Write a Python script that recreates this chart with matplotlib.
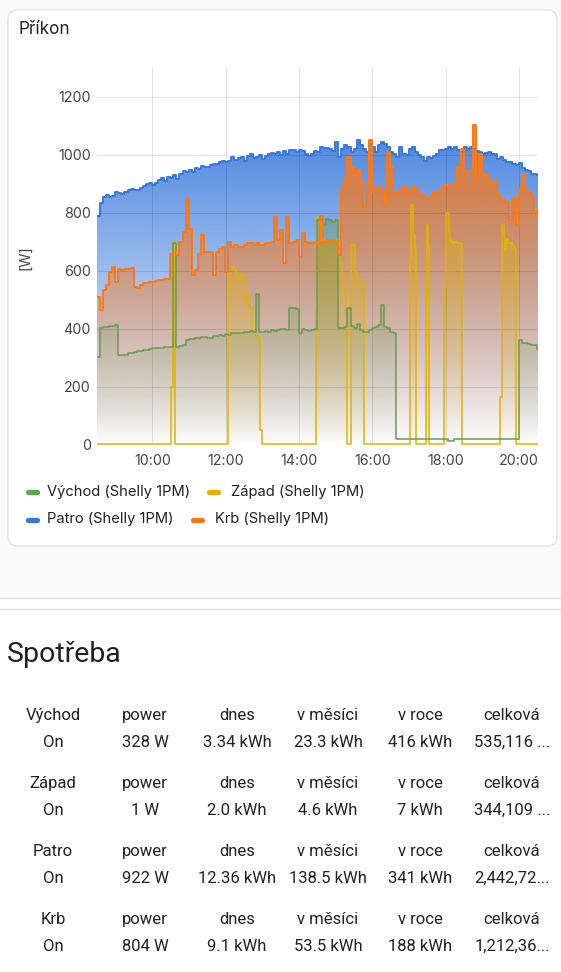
import numpy as np
import matplotlib
matplotlib.use('Agg')
import matplotlib.pyplot as plt
from matplotlib.patches import FancyBboxPatch, PathPatch, Rectangle
from matplotlib.lines import Line2D
from matplotlib.transforms import IdentityTransform
from matplotlib.colors import to_rgb

# ---------------- data ----------------
T_START = 8.49            # hours (first sample)
T_END = 20.52             # hours (now)
STEP_H = 5 / 60           # 5-minute samples

patro = [
    790, 835, 855, 862, 855, 860, 872, 870, 865, 872, 878, 882,
    880, 878, 885, 892, 900, 905, 897, 905, 915, 920, 912, 925,
    920, 930, 918, 935, 945, 940, 948, 942, 955, 950, 962, 958,
    959, 964, 970, 970, 976, 981, 976, 981, 993, 984, 990, 993,
    979, 995, 1004, 990, 993, 999, 987, 995, 1004, 1007, 1004, 1009,
    999, 1014, 1004, 1016, 1018, 1010, 1016, 1014, 1004, 995, 1004, 1014,
    1010, 1027, 1025, 1025, 1022, 1014, 1045, 993, 1022, 1033, 1027, 1010,
    1022, 1050, 1033, 1022, 1010, 1039, 1027, 1010, 1033, 1045, 1039, 1027,
    1010, 1004, 993, 1027, 1004, 999, 1022, 1027, 1010, 999, 993, 979,
    993, 991, 995, 1004, 1016, 1018, 1022, 1027, 1022, 1027, 1018, 1010,
    1027, 1022, 1027, 1022, 1014, 1010, 1004, 1007, 1010, 1004, 1002, 987,
    993, 984, 976, 976, 970, 964, 972, 956, 949, 945, 936, 936,
    930]

krb = [
    511, 465, 534, 551, 597, 614, 562, 608, 603, 608, 608, 611,
    545, 540, 551, 557, 560, 562, 562, 565, 568, 568, 571, 574,
    660, 662, 655, 700, 735, 853, 746, 585, 605, 660, 723, 666,
    666, 666, 585, 666, 677, 683, 597, 700, 683, 689, 683, 683,
    689, 695, 695, 689, 695, 689, 689, 695, 695, 700, 786, 706,
    740, 626, 786, 695, 700, 706, 649, 731, 700, 695, 695, 700,
    689, 789, 700, 706, 706, 706, 700, 654, 884, 918, 993, 960,
    930, 947, 907, 821, 901, 1052, 872, 884, 890, 878, 826, 1010,
    958, 872, 866, 878, 890, 866, 878, 890, 884, 866, 861, 850,
    850, 858, 872, 870, 878, 890, 895, 892, 895, 890, 958, 1022,
    945, 890, 947, 1102, 924, 1004, 935, 930, 912, 907, 912, 861,
    844, 844, 838, 775, 850, 758, 884, 936, 878, 872, 858, 798,
    809]

vychod = [
    303, 405, 408, 408, 410, 410, 413, 310, 310, 312, 316, 318,
    321, 323, 325, 327, 329, 331, 333, 333, 333, 335, 337, 339,
    339, 698, 339, 341, 346, 362, 364, 365, 368, 370, 371, 373,
    370, 370, 375, 377, 379, 375, 382, 379, 385, 387, 385, 385,
    390, 388, 394, 390, 522, 390, 390, 394, 390, 396, 394, 396,
    399, 399, 396, 471, 471, 468, 385, 399, 396, 394, 396, 399,
    775, 781, 763, 781, 775, 770, 775, 405, 405, 408, 471, 410,
    405, 417, 396, 388, 390, 396, 402, 408, 415, 482, 408, 402,
    390, 385, 20, 20, 20, 20, 20, 20, 20, 20, 20, 20,
    20, 20, 20, 20, 20, 20, 20, 15, 15, 20, 20, 20,
    20, 20, 20, 20, 20, 20, 20, 20, 20, 20, 20, 20,
    20, 20, 20, 20, 20, 20, 362, 350, 350, 347, 345, 344,
    330]

# Západ: change points (hour, watts)
zapad_t = [8.49, 10.52, 10.57, 10.63, 12.07, 12.23, 12.27, 12.32, 12.39, 12.45,
           12.50, 12.54, 12.59, 12.64, 12.71, 12.78, 12.84, 12.91, 12.93, 13.00,
           14.46, 14.50, 14.60, 15.07, 15.12, 15.16, 15.23, 15.27, 15.30,
           15.43, 15.53, 15.57, 15.62, 15.69, 15.77,
           17.03, 17.06, 17.12, 17.16, 17.20,
           17.46, 17.50, 17.53, 17.56,
           17.96, 18.00, 18.09, 18.13, 18.18, 18.24, 18.30, 18.44,
           19.48, 19.55, 19.58, 19.62, 19.66, 19.71, 19.82, 19.87, 19.91]
zapad_v = [3, 200, 700, 3, 614, 608, 597, 574, 591, 585,
           522, 499, 516, 476, 396, 385, 375, 367, 52, 3,
           471, 790, 706, 689, 626, 591, 528, 453, 3,
           689, 597, 580, 568, 555, 3,
           643, 827, 723, 683, 3,
           528, 758, 695, 3,
           545, 800, 735, 706, 695, 700, 695, 3,
           166, 758, 718, 672, 712, 695, 690, 677, 3]

x_ticks = [10, 12, 14, 16, 18, 20]
x_labels = ["10:00", "12:00", "14:00", "16:00", "18:00", "20:00"]
y_ticks = [0, 200, 400, 600, 800, 1000, 1200]

legend_names = ["Východ (Shelly 1PM)", "Západ (Shelly 1PM)",
                "Patro (Shelly 1PM)", "Krb (Shelly 1PM)"]

table_names = ["Východ", "Západ", "Patro", "Krb"]
table_headers = ["power", "dnes", "v měsíci", "v roce", "celková"]
table_state = ["On", "On", "On", "On"]
table_power = ["328 W", "1 W", "922 W", "804 W"]
table_today = ["3.34 kWh", "2.0 kWh", "12.36 kWh", "9.1 kWh"]
table_month = ["23.3 kWh", "4.6 kWh", "138.5 kWh", "53.5 kWh"]
table_year = ["416 kWh", "7 kWh", "341 kWh", "188 kWh"]
table_total = ["535,116 ...", "344,109 ...", "2,442,72...", "1,212,36..."]

# ---------------- styles ----------------
C_GREEN = '#58a84e'
C_GREEN_LINE = '#6b9a52'
C_YELLOW = '#e2b200'
C_BLUE = '#3878dc'
C_ORANGE = '#ff7812'
TXT = '#212121'

W, H = 561, 972
fig = plt.figure(figsize=(W / 100, H / 100), dpi=100, facecolor='white')


def fx(x):
    return x / W


def fy(y):
    return 1 - y / H


# page background + card
fig.add_artist(Rectangle((0, fy(598)), 1, 1 - fy(598), transform=fig.transFigure,
                         facecolor='#fafafa', edgecolor='none', zorder=-10))
fig.add_artist(FancyBboxPatch((8, H - 546), 549, 536,
                              boxstyle='round,pad=0,rounding_size=10',
                              transform=IdentityTransform(), facecolor='white',
                              edgecolor='#e2e2e2', linewidth=0.9, zorder=-5))
for yy in (598, 609):
    fig.add_artist(Line2D([0, 1], [fy(yy), fy(yy)], transform=fig.transFigure,
                          color='#e0e0e0', linewidth=1.0, zorder=-4))

fig.text(fx(19), fy(30), "Příkon", fontsize=12.3, family='Inter', color=TXT,
         ha='left', va='center')

# ---------------- chart ----------------
ax = fig.add_axes([fx(97), fy(445), fx(538) - fx(97), fy(68) - fy(445)])
ax.set_facecolor('none')
for s in ax.spines.values():
    s.set_visible(False)

YMAX = 1300


def ext(t, v):
    t = list(t) + [T_END]
    v = list(v) + [v[-1]]
    return np.array(t), np.array(v, dtype=float)


def grad_fill(t, v, color, z, k):
    poly = ax.fill_between(t, v, 0, step='post', facecolor='none',
                           edgecolor='none', zorder=z)
    path = poly.get_paths()[0]
    patch = PathPatch(path, transform=ax.transData, facecolor='none',
                      edgecolor='none')
    ax.add_patch(patch)
    n = 300
    yv = np.linspace(0, YMAX, n)
    img = np.zeros((n, 2, 4))
    img[..., :3] = to_rgb(color)
    img[..., 3] = np.clip(k * yv / 1000, 0, 0.9)[:, None]
    im = ax.imshow(img, extent=[T_START, T_END, 0, YMAX], origin='lower',
                   aspect='auto', interpolation='bilinear', zorder=z)
    im.set_clip_path(patch)


grid_t = T_START + np.arange(len(patro)) * STEP_H
tb, vb = ext(grid_t, patro)
to, vo = ext(grid_t, krb)
tg, vg = ext(grid_t, vychod)
ty, vy = ext(zapad_t, zapad_v)

grad_fill(tb, vb, C_BLUE, 1.0, 0.83)
grad_fill(to, vo, C_ORANGE, 1.1, 0.80)
grad_fill(ty, vy, C_YELLOW, 1.2, 0.55)
grad_fill(tg, vg, C_GREEN_LINE, 1.3, 0.55)

ax.step(tb, vb, where='post', color=C_BLUE, lw=1.4, zorder=4)
ax.step(ty, vy, where='post', color=C_YELLOW, lw=1.1, zorder=5)
ax.step(tg, vg, where='post', color=C_GREEN_LINE, lw=1.1, zorder=6)
ax.step(to, vo, where='post', color=C_ORANGE, lw=1.4, zorder=7)

ax.set_xlim(T_START, T_END)
ax.set_ylim(0, YMAX)
ax.set_xticks(x_ticks)
ax.set_xticklabels(x_labels)
ax.set_yticks(y_ticks)
ax.set_yticklabels([str(v) for v in y_ticks])
ax.grid(True, color='black', alpha=0.1, linewidth=0.8)
ax.set_axisbelow(False)
ax.tick_params(length=0, labelsize=10.3, labelcolor='#444444')
ax.tick_params(axis='y', pad=4.5)
ax.tick_params(axis='x', pad=6.5)
for lab in ax.get_xticklabels() + ax.get_yticklabels():
    lab.set_family('Inter')

fig.text(fx(25), fy(258), "[W]", rotation=90, fontsize=10.3, family='Inter',
         color='#444444', ha='center', va='center')

# ---------------- legend ----------------
leg = [(27.5, 36.5, 491.5, C_GREEN, 47, legend_names[0]),
       (208.5, 218.0, 491.5, C_YELLOW, 231, legend_names[1]),
       (27.5, 36.5, 519.5, C_BLUE, 47, legend_names[2]),
       (192.5, 201.5, 519.5, C_ORANGE, 215, legend_names[3])]
for x0, x1, yy, c, tx, name in leg:
    fig.add_artist(Line2D([x0, x1], [H - yy, H - yy], transform=IdentityTransform(),
                          color=c, linewidth=3.8, solid_capstyle='round'))
    fig.text(fx(tx), fy(yy), name, fontsize=10.6, family='Inter', color=TXT,
             ha='left', va='center')

# ---------------- table ----------------
fig.text(fx(7), fy(655), "Spotřeba", fontsize=20.5, family='Roboto', color=TXT,
         ha='left', va='center')

col_x = [53, 145, 237, 328, 420, 512]
for i in range(4):
    y1 = 715 + 68 * i
    y2 = y1 + 27
    heads = [table_names[i]] + table_headers
    vals = [table_state[i], table_power[i], table_today[i], table_month[i],
            table_year[i], table_total[i]]
    for cx, h_, v_ in zip(col_x, heads, vals):
        fig.text(fx(cx), fy(y1), h_, fontsize=12, family='Roboto', color=TXT,
                 ha='center', va='center')
        fig.text(fx(cx), fy(y2), v_, fontsize=12, family='Roboto', color=TXT,
                 ha='center', va='center')

fig.savefig('out.png', dpi=100, facecolor=fig.get_facecolor())
